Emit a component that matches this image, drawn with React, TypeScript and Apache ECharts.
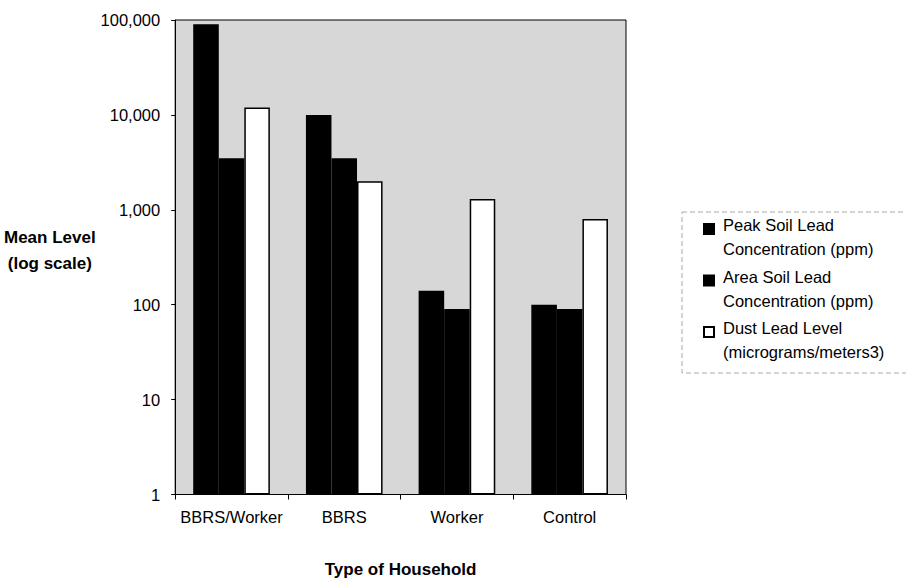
import React, { useEffect, useRef } from "react";
import * as echarts from "echarts";

const categories = ["BBRS/Worker", "BBRS", "Worker", "Control"];
const peakSoil = [90000, 10000, 140, 100];
const areaSoil = [3500, 3500, 90, 90];
const dustLead = [12000, 2000, 1300, 800];
const legendLines = [
  ["Peak Soil Lead", "Concentration (ppm)"],
  ["Area Soil Lead", "Concentration (ppm)"],
  ["Dust Lead Level", "(micrograms/meters3)"],
];
const seriesColors = ["#000000", "#000000", "#ffffff"];

const FONT = "'Liberation Sans', Arial, Helvetica, sans-serif";

export default function App() {
  const ref = useRef<HTMLDivElement>(null);
  useEffect(() => {
    document.body.style.margin = "0";
    if (!ref.current) return;
    const chart = echarts.init(ref.current, undefined, { renderer: "svg" });
    const names = legendLines.map((l) => l.join(" "));
    const values = [peakSoil, areaSoil, dustLead];
    chart.setOption({
      animation: false,
      backgroundColor: "#ffffff",
      textStyle: { fontFamily: FONT, color: "#000" },
      grid: {
        left: 165,
        right: 280,
        top: 20,
        bottom: 88,
        show: true,
        backgroundColor: "#d7d7d7",
        borderColor: "#000",
        borderWidth: 1,
      },
      legend: {
        orient: "vertical",
        left: 703,
        top: 200,
        padding: 0,
        itemGap: -6,
        itemWidth: 10,
        itemHeight: 10,
        icon: "rect",
        data: names,
        formatter: (n: string) => {
          const i = names.indexOf(n);
          const lines = i >= 0 ? legendLines[i] : [n];
          return "{g| }\n" + lines.map((l) => "{t|" + l + "}").join("\n");
        },
        textStyle: {
          fontFamily: FONT,
          fontSize: 16.5,
          color: "#000",
          rich: {
            g: { lineHeight: 16, fontSize: 10, fontFamily: FONT },
            t: { lineHeight: 24, fontSize: 16.5, fontFamily: FONT, color: "#000", padding: [0, 0, 0, 4] },
          },
        },
      },
      graphic: [
        {
          type: "rect",
          z: -1,
          shape: { x: 682, y: 212, width: 240, height: 161 },
          style: { fill: "none", stroke: "#aaaaaa", lineWidth: 1, lineDash: [5, 3] },
        },
      ],
      xAxis: {
        type: "category",
        data: categories,
        boundaryGap: true,
        axisLine: { lineStyle: { color: "#000", width: 1 } },
        axisTick: { show: true, length: 5, lineStyle: { color: "#000" } },
        axisLabel: { fontFamily: FONT, fontSize: 16.5, color: "#000", margin: 14, interval: 0 },
        name: "Type of Household",
        nameLocation: "middle",
        nameGap: 75,
        nameTextStyle: {
          fontFamily: FONT,
          fontSize: 17,
          fontWeight: "bold",
          color: "#000",
          verticalAlign: "middle",
        },
      },
      yAxis: {
        type: "log",
        logBase: 10,
        min: 1,
        max: 100000,
        axisLine: { show: true, lineStyle: { color: "#000", width: 1 } },
        axisTick: { show: true, length: 4, lineStyle: { color: "#000" } },
        splitLine: { show: false },
        axisLabel: {
          fontFamily: FONT,
          fontSize: 16.5,
          color: "#000",
          margin: 15,
          formatter: (v: number) => Math.round(v).toLocaleString("en-US"),
        },
        name: "{t|Mean Level}\n{t|(log scale)}\n{g| }",
        nameLocation: "middle",
        nameGap: 107,
        nameRotate: 0,
        nameTextStyle: {
          fontFamily: FONT,
          fontSize: 17,
          fontWeight: "bold",
          color: "#000",
          align: "center",
          verticalAlign: "middle",
          rich: {
            t: { fontFamily: FONT, fontSize: 17, fontWeight: "bold", color: "#000", lineHeight: 26 },
            g: { fontSize: 10, lineHeight: 14 },
          },
        },
      },
      series: names.map((name, i) => ({
        name,
        type: "bar",
        data: values[i],
        barGap: "0%",
        barCategoryGap: "32%",
        itemStyle: {
          color: seriesColors[i],
          borderColor: "#000",
          borderWidth: 1.5,
        },
      })),
    });
    return () => chart.dispose();
  }, []);
  return <div ref={ref} style={{ width: 906, height: 583 }} />;
}
